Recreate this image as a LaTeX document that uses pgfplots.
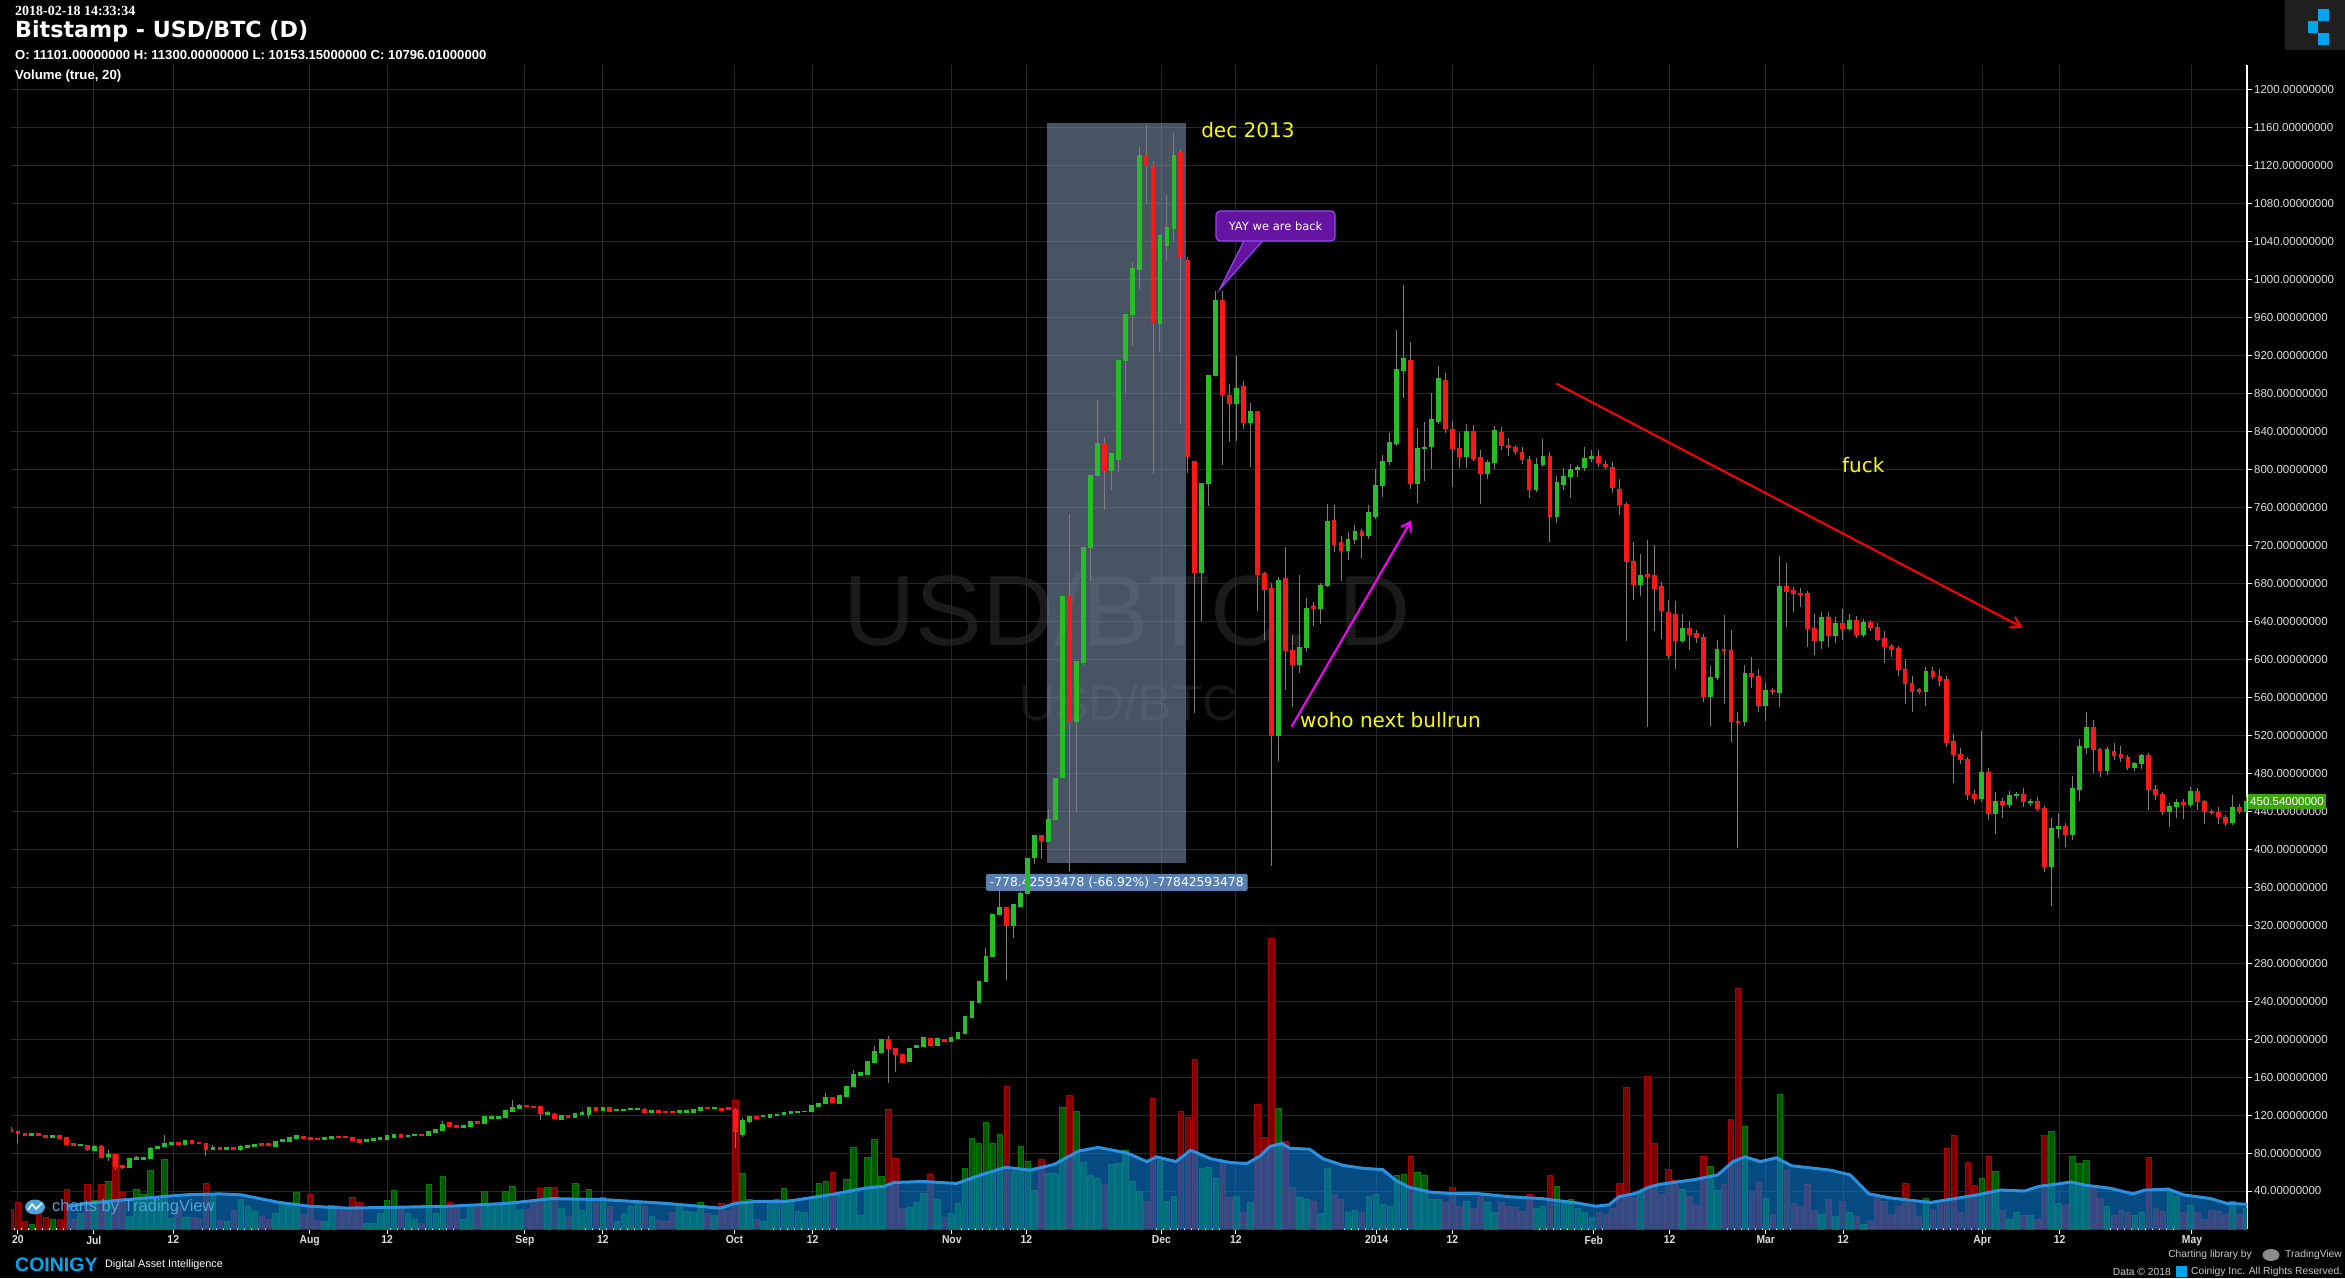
\documentclass[border=0pt]{standalone}
\usepackage{fontspec}
\setmainfont{Liberation Sans}
\newfontfamily\dejavu{DejaVu Sans}
\newfontfamily\serifb{Liberation Serif}
\newfontfamily\narrow[FakeStretch=0.9]{Liberation Sans}
\usepackage{pgfplots}
\usepackage{pgfplotstable}
\pgfplotsset{compat=1.18}
\usetikzlibrary{arrows.meta}

\definecolor{gridc}{RGB}{40,40,40}
\definecolor{upc}{RGB}{38,190,38}
\definecolor{dnc}{RGB}{250,25,25}
\definecolor{wickc}{RGB}{125,125,125}
\definecolor{vup}{RGB}{0,90,0}
\definecolor{vupe}{RGB}{0,125,0}
\definecolor{vdn}{RGB}{125,0,0}
\definecolor{vdne}{RGB}{170,0,0}
\definecolor{maf}{RGB}{8,119,206}
\definecolor{mal}{RGB}{40,145,225}
\definecolor{tickc}{RGB}{222,222,222}
\definecolor{boxc}{RGB}{120,140,165}
\definecolor{lblc}{RGB}{88,128,178}
\definecolor{yel}{RGB}{250,250,0}
\definecolor{purf}{RGB}{100,20,160}
\definecolor{pure}{RGB}{150,70,240}
\definecolor{mag}{RGB}{255,0,255}
\definecolor{pricebox}{RGB}{60,165,10}
\definecolor{wm}{RGB}{26,26,26}
\definecolor{wm2}{RGB}{22,22,22}
\definecolor{coin}{RGB}{0,165,235}
\definecolor{tvblue}{RGB}{75,165,215}
\definecolor{foot}{RGB}{200,200,200}

% i = bar index (0 = 20 Jun 2013), o h l c = price, v = volume bar height, d = 1 up / 0 down
\pgfplotstableread{
i o h l c v d
-1 104.5 107.4 101.8 102.4 21 0
0 102.8 103.5 90.5 101 28 0
1 101 101.6 98 98.6 8 0
2 98.6 101 98 100.3 5 1
3 100.7 101.5 97.5 98.2 27 0
4 98.6 99.2 96 96.5 12 0
5 96.5 98.8 96 98.2 10 1
6 97.9 98.5 95 95.4 10 0
7 95.8 96.3 88.5 89.1 42 0
8 89.5 90 87.5 88 10 0
9 88.4 89.3 88 88.7 16 1
10 88.4 89 82 84.2 47 0
11 82.4 88 81.7 87.3 30 1
12 87.3 88 75 75.8 47 0
13 76.5 83 72 78.9 50 1
14 78.9 79.5 62.4 65.9 79 0
15 66.6 67.5 63 64.9 39 0
16 64.9 75 64 74 13 1
17 73.7 77 72.5 75.1 42 1
18 73.7 76 73 75.4 37 1
19 74.4 86 74 85.2 62 1
20 84.5 87.5 84 86.6 31 1
21 87 99.3 86.5 89.8 73 1
22 89.1 92 88.5 91.2 11 1
23 90.8 91.5 88.5 89.1 24 0
24 89.1 93.8 88.8 93 12 1
25 93 94 90 90.5 12 0
26 91.2 91.8 89.2 89.8 11 0
27 90.5 91 76.5 83.8 48 0
28 83.5 88 83 86 36 1
29 85.9 86.5 83.8 84.2 9 0
30 84.2 86.5 83.8 85.9 8 1
31 85.9 86.5 83 83.5 20 0
32 84.2 88 81.7 87 31 1
33 86 88.3 85.5 87.7 24 1
34 87 89.5 86.6 89 19 1
35 90.2 90.8 88 88.4 13 0
36 89.8 90.3 87.3 87.7 10 0
37 87 93 86.5 92.3 16 1
38 91.9 95 91.5 94.4 27 1
39 92.6 96.8 92.2 96.1 27 1
40 95.4 99.5 95 98.6 39 1
41 97.5 98 95 95.4 15 0
42 96.5 97 94 94.4 36 0
43 95.4 96 94 94.4 9 0
44 94.7 97 94.3 96.5 8 1
45 95.8 98 95.3 97.5 25 1
46 97.5 98 96 96.5 24 0
47 97.5 98 95.7 96.1 19 0
48 96.8 97.3 92.6 93 33 0
49 94 94.5 90.8 91.2 28 0
50 91.9 94.5 91.5 94 6 1
51 93.3 95.6 92.9 95.1 6 1
52 94.4 96.6 94 96.1 17 1
53 94.7 99.2 94.3 98.6 30 1
54 96.8 100.5 96.4 99.6 41 1
55 99.6 100.2 96.4 96.8 22 0
56 97.5 99.4 97 98.9 16 1
57 98.2 100.1 97.8 99.6 10 1
58 99.3 99.8 98.5 98.9 6 0
59 98.6 103.7 98.2 103.1 47 1
60 101.7 105.8 101.3 105.2 16 1
61 103.8 114 103.4 110.2 55 1
62 111.6 112.3 108 108.4 28 0
63 109.1 109.6 106.2 106.6 24 0
64 107 109.6 106.6 109.1 10 1
65 108 113.6 107.6 113 23 1
66 113.3 114 110.5 110.9 26 0
67 111.6 118.5 111.2 117.9 40 1
68 116.8 118.5 116.4 117.9 24 1
69 116.8 119.2 116.4 118.6 27 1
70 117.5 125.5 117 124.9 40 1
71 123.8 135.4 123.4 127.7 45 1
72 127.4 131.5 127 130.5 20 1
73 129.8 130.5 128.4 128.8 21 0
74 129.1 129.8 127.3 127.7 28 0
75 128.8 129.5 115.1 121.4 43 0
76 120.7 123.8 120.3 123.1 44 1
77 121 121.7 116 116.5 44 0
78 115.4 120.3 115 119.6 22 1
79 119.6 120.3 116.8 117.2 13 0
80 117.9 122.5 117.5 121.4 48 1
81 121 123.8 120.6 123.1 20 1
82 121 128 116.8 127.4 42 1
83 127.7 128.3 124.6 125 32 0
84 125.3 128.3 124.9 127.7 33 1
85 127.4 128 123.5 124 24 0
86 124.5 126.2 124 125.6 8 1
87 125.2 126.9 124.8 126.3 16 1
88 125.6 127.6 125.2 127 24 1
89 125.6 127.6 125.2 127 27 1
90 126.3 127 122.4 122.8 24 0
91 123.1 125.5 122.7 124.9 13 1
92 124.6 125.2 122.7 123.1 9 0
93 124.2 124.8 122.7 123.1 8 0
94 123.8 124.4 122.4 122.8 18 0
95 123.1 125.1 122.7 124.5 25 1
96 123.1 125.5 122.7 124.9 19 1
97 123.1 126.9 122.7 126.3 18 1
98 124.5 128.3 124.1 127.7 28 1
99 127.7 128.3 126.6 127 16 0
100 127 129 126.6 128.1 14 1
101 127.1 127.7 124.5 124.9 27 0
102 127.4 128 125.6 126 20 0
103 126.3 127 85 102.8 136 0
104 99.1 117 97 114.3 59 1
105 113.5 119 112 118.1 31 1
106 118.9 119.5 116 116.6 10 0
107 118.7 119.8 118 119.1 8 1
108 117.3 121 116.8 120.4 27 1
109 119.6 121 119 120.4 31 1
110 120.4 123.2 120 122.6 43 1
111 121.9 124 121.5 123.4 31 1
112 123 124 122.5 123.4 19 1
113 123.8 124.7 123.3 124.1 18 1
114 124.1 130 123.6 129.5 31 1
115 128.7 133 128.2 132.5 48 1
116 131.8 143 131.3 138.6 50 1
117 138.6 139.3 132.5 133.3 60 0
118 132.5 140.7 132 140.1 35 1
119 140.1 150.6 139.6 150 52 1
120 150 167 149.5 162.2 86 1
121 162.2 165 161.6 164.4 14 1
122 163 176.5 162.5 175.9 75 1
123 175.9 193 175.4 186.5 94 1
124 186.5 200.2 186 199.5 55 1
125 199.5 203 154 190.3 126 0
126 190.3 191 165 183.5 74 0
127 184.2 184.8 175 175.9 22 0
128 176.6 191 176 190.3 23 1
129 191.1 194 190.5 193.4 28 1
130 192.6 202.4 192 201.7 38 1
131 200.2 200.8 192.8 193.4 58 0
132 193.4 200.8 192.8 200.2 31 1
133 199.5 200.1 197.4 198 12 0
134 198 202.3 197.4 201.7 16 1
135 201 208 200.4 207 27 1
136 205.5 224.5 205 223.8 64 1
137 223 240.5 222.4 239.8 96 1
138 239 261 238.4 260.3 90 1
139 260.3 296 259.7 286.9 112 1
140 286.9 331.7 286.3 331 90 1
141 331 359 330.4 338.6 100 1
142 338.6 339.2 262.6 319.6 150 0
143 319.6 342.4 307 341.7 61 1
144 340.1 354.5 339.5 353.8 87 1
145 353.8 391 353.2 390.4 71 1
146 391.1 415.4 384 414.7 41 1
147 414.7 415.4 390 409.4 73 0
148 408.6 442 408 431.4 59 1
149 431.4 475.5 430.8 474.8 59 1
150 475.5 667 475 666.4 128 1
151 666.4 753 376.7 534.1 141 0
152 534.1 598 439 597.2 124 1
153 597.2 718.8 594 718.1 70 1
154 718.1 794 682 793.4 57 1
155 793.4 873 792.8 826.9 53 1
156 826.9 834 757 798.7 47 0
157 798.7 817.7 778 817 68 1
158 810.1 915.8 797 915.1 69 1
159 915.1 963.7 880 963 83 1
160 963 1019 930 1011.7 50 1
161 1010.9 1140 990 1131.1 40 1
162 1131.1 1163 1080 1119.7 29 0
163 1119.7 1125 795 953.9 138 0
164 953.9 1047.3 924 1046.6 72 1
165 1036 1089 1020 1054.3 29 1
166 1054.3 1154 1040 1131.1 34 1
167 1133.4 1138 848 1024.6 124 0
168 1019.7 1024 796 814 118 0
169 808 809 543 691.9 179 0
170 691.9 786 640 785 64 1
171 785 899.5 762 898.8 65 1
172 898.8 988 898 977.7 53 1
173 977.7 987.5 805 878.5 72 0
174 877.8 890 829 869.3 33 0
175 869.3 919 830 885.7 34 1
176 887.7 893 843 849.6 18 0
177 849.6 870 803 861.4 28 1
178 860.7 862 651 689.9 131 0
179 689.9 692 620 674.1 97 0
180 674.1 680 382.4 519.7 306 0
181 519.7 687 493 683.3 127 1
182 684.6 718 568 609 92 0
183 609 626 550 594.6 44 0
184 594.6 689 586 612.4 33 1
185 612.4 665 608 653.8 31 1
186 656 660 635 653.8 29 0
187 653.8 680 637 678 16 1
188 678 764 676 745 64 1
189 746.4 763 713 720.8 37 0
190 723.4 730 683 714.2 31 0
191 714.2 734 705 726 18 1
192 726 741 722 734.4 20 1
193 734.4 737 707 730.6 18 0
194 730.6 763 727 754.3 34 1
195 750.3 800 748 783.2 36 1
196 783.2 815 771 808 26 1
197 808 838 805 827.9 24 1
198 827.9 947 825 904.7 56 1
199 904.7 994 875 917.2 58 1
200 914.6 934 779 785.2 77 0
201 785.2 844 765 822 60 1
202 822 850 788 823.5 57 1
203 824 880 800 852.2 31 1
204 850.9 909 848 895.5 31 1
205 893.6 902 838 843 28 0
206 842.3 851 782 822 44 0
207 822 838 802 814 24 0
208 814 848 801 839.7 29 1
209 839.7 847 809 812 22 0
210 812.1 821 764 795.7 38 0
211 795.7 810 790 807.5 28 1
212 807.5 846 800 841 18 1
213 839 845 820 825.2 28 0
214 825.2 833 814 823.2 24 0
215 823.2 826 815 818.7 23 0
216 818 824 806 810.5 19 0
217 810 814 770 779.2 36 0
218 779.2 812 776 804.9 22 1
219 804.9 832 803 814 24 1
220 814 818 724 750.3 57 0
221 750.3 793 744 786.5 45 1
222 784.5 801 778 793 27 1
223 793 806 770 799.6 31 1
224 799.6 805 792 802 22 1
225 802 824 798 811.5 18 1
226 811.5 820 808 814 12 1
227 814 820 803 807.5 18 0
228 805.5 809 800 803 15 0
229 801.6 808 775 781.2 22 0
230 779.2 790 752 763.5 48 0
231 763.5 766 619 703 149 0
232 703 724 662 679.4 33 0
233 679.4 711 667 688 40 1
234 689 726 529 687.5 161 0
235 688 720 630 674.3 90 0
236 676.2 681 621 651.2 36 0
237 648.8 662 600 603.7 63 0
238 647.3 661 590 620.4 51 0
239 620.4 648 617 632.1 42 1
240 632.1 640 610 626.7 34 0
241 627.2 631 617 622.8 25 0
242 622.8 627 555 560.6 77 0
243 560.6 593 530 581.2 66 1
244 581.2 620 578 610.6 41 1
245 610.1 647 553 609.1 47 0
246 609.6 631 513 534.1 115 0
247 534.1 545 400.8 533.6 253 0
248 534.1 594 530 585.1 108 1
249 585.1 602 570 582.1 39 0
250 582.1 590 545 551.3 49 0
251 551.3 576 535 567.4 32 1
252 567.4 570 562 566.4 15 0
253 565.5 708.6 550 676.7 142 1
254 676.7 701 634 671.8 62 0
255 672.8 676 650 669.4 27 0
256 669.4 675 655 668.4 24 0
257 669.4 672 613 632.1 47 0
258 632.1 648 605 619.9 20 0
259 619.9 650 611 644.4 15 1
260 644.4 650 613 625.7 31 0
261 625.7 645 617 638 13 1
262 638 653 620 632.1 29 0
263 632.1 648 630 640.9 18 1
264 640.9 646 622 626.7 13 0
265 626.7 643 624 639 5 1
266 639 641 630 633.1 8 0
267 633.6 638 619 621.3 34 0
268 622.3 630 596 613.5 29 0
269 613.5 616 602 610.6 15 0
270 611.5 614 582 589 24 0
271 589 600 553 574.3 48 0
272 574.3 582 545 566.4 27 0
273 568.4 570 563 566.4 13 0
274 566.4 592 551 587 32 1
275 587 592 579 582.1 20 0
276 582.1 590 572 578.2 27 0
277 579.2 582 508 513 85 0
278 513 521 470 499.8 99 0
279 499.8 507 490 494.9 18 0
280 494.9 497 452 457.7 70 0
281 457.7 462 448 453.8 46 0
282 453.8 525 450 481.2 53 1
283 481.2 486 431 438.1 76 0
284 438.1 460 416 449.9 61 1
285 449.9 454 433 446.9 20 0
286 446.9 461 443 456.7 10 1
287 456.7 460 453 457.7 18 1
288 457.7 465 444 449.9 14 0
289 448.9 453 446 449.9 14 1
290 449.9 455 440 443 10 0
291 443 446 376 381.7 99 0
292 381.7 433 340 421.4 103 1
293 421.4 438 412 424.3 27 1
294 424.3 428 402 415.5 25 0
295 415.5 477 410 463.5 76 1
296 463.5 516 451 508.6 69 1
297 507.6 545 500 527.7 72 1
298 527.7 536 480 504.7 45 0
299 504.7 507 476 483.2 32 0
300 483.2 508 478 504.7 24 1
301 502.7 512 494 499.3 14 0
302 499.3 509 492 496.9 20 0
303 496.9 499 483 486.1 18 0
304 486.1 492 482 490 14 1
305 490 500 484 498.8 18 1
306 498.8 501 441 462.6 75 0
307 462.6 468 452 457.7 22 0
308 457.7 460 436 440 19 0
309 440 449 423 444.9 42 1
310 444.9 453 433 448.9 34 1
311 448.9 453 432 446.9 18 0
312 446.9 466 444 460.6 25 1
313 460.6 464 441 449.9 18 0
314 449.9 452 427 440 10 0
315 440 442 437 439 20 0
316 438.5 444 427 434.1 19 0
317 433.2 436 424 428.3 15 0
318 428.3 457 426 443.9 29 1
319 443.9 448 437 440 15 0
320 440 455 438 450.5 22 1
}\data

\begin{document}
\begin{tikzpicture}[x=1pt,y=1pt]
\fill[black] (0,0) rectangle (2345,1278);
% watermark
\node[text=wm, font=\fontsize{100}{100}\selectfont, inner sep=0] at (1127,662) {USD/BTC, D};
\node[text=wm2, font=\fontsize{50}{50}\selectfont, inner sep=0] at (1129,575) {USD/BTC};

\begin{axis}[
  at={(11pt,49pt)}, anchor=south west, scale only axis,
  width=2236pt, height=1164pt,
  xmin=-1, xmax=320.1, ymin=0, ymax=1226,
  axis x line*=bottom, axis y line*=right,
  axis line style={white, line width=1.2pt},
  xtick={0,10.9,22.3,41.9,53.0,72.8,84.0,102.9,114.1,134.1,144.8,164.2,174.9,195.1,206.0,226.3,237.2,251.0,262.1,282.1,293.2,312.2},
  xticklabels={20,Jul,12,Aug,12,Sep,12,Oct,12,Nov,12,Dec,12,2014,12,Feb,12,Mar,12,Apr,12,May},
  ytick={40,80,...,1200},
  yticklabel={\pgfmathparse{int(round(\tick))}\pgfmathresult.00000000},
  grid=major, major grid style={gridc, line width=1pt},
  tick align=outside, major tick length=5pt,
  tick style={white, line width=1pt},
  xticklabel style={font=\narrow\bfseries\fontsize{11.5}{12}\selectfont, text=tickc, inner sep=1.5pt},
  yticklabel style={font=\fontsize{11.5}{12}\selectfont, text=tickc, inner sep=2pt},
]
% volume bars
\addplot[ybar, bar shift=0pt, bar width=5.6pt, fill=vup, draw=vupe, line width=0.7pt,
  restrict y to domain=0:2000]
  table[x=i, y expr={\thisrow{d}==1 ? \thisrow{v} : -1}] {\data};
\addplot[ybar, bar shift=0pt, bar width=5.6pt, fill=vdn, draw=vdne, line width=0.7pt,
  restrict y to domain=0:2000]
  table[x=i, y expr={\thisrow{d}==0 ? \thisrow{v} : -1}] {\data};

% volume moving average (20)
\addplot[draw=none, fill=maf, fill opacity=0.63] coordinates {
(7,24) (10,27) (14,30) (19,33) (24,36) (29,37) (32,36) (37.5,28) (41.8,24) (47.3,22)
(55,23) (62,24) (70.3,27) (76.6,32) (84,31) (93,27) (100.9,22) (103,27) (106,29) (110.4,29)
(117.4,37) (121.6,43) (124.4,45) (125.8,49) (130,50) (134.8,48) (138.3,57) (141.8,65) (145.3,62) (148.8,68)
(152.3,82) (155.1,86) (159.3,80) (162.1,71) (163.5,76) (166.3,71) (168.4,83) (171.3,74) (174.1,70) (176.5,69)
(178.4,77) (179.8,87) (181.5,90) (182.7,85) (185.5,84) (187.4,74) (190.3,67) (193.1,64) (196,62.5) (197.9,51)
(199.8,44) (202.7,39) (205.5,37.5) (209.4,37.5) (214.1,34) (218.9,32) (223.7,27.6) (226.6,24) (228.5,25.6) (229.9,34)
(232.3,37.5) (234.2,44) (235.7,47) (240.7,52) (244.1,57) (246.3,71) (248,76) (250.2,71) (252.5,75) (254.7,66.6)
(260.3,62) (263.1,57) (265.8,37) (268.6,33) (271.4,30.6) (274.7,28) (278.1,32) (281.4,36) (284.7,41) (288.1,40)
(290.3,45) (292.5,47) (294.8,49.5) (297,46) (300.4,43) (303.7,37) (305.4,41) (308.8,42) (311,36) (314.9,32)
(317.2,27) (320.2,26)} \closedcycle;
\addplot[mal, line width=3pt] coordinates {
(7,24) (10,27) (14,30) (19,33) (24,36) (29,37) (32,36) (37.5,28) (41.8,24) (47.3,22)
(55,23) (62,24) (70.3,27) (76.6,32) (84,31) (93,27) (100.9,22) (103,27) (106,29) (110.4,29)
(117.4,37) (121.6,43) (124.4,45) (125.8,49) (130,50) (134.8,48) (138.3,57) (141.8,65) (145.3,62) (148.8,68)
(152.3,82) (155.1,86) (159.3,80) (162.1,71) (163.5,76) (166.3,71) (168.4,83) (171.3,74) (174.1,70) (176.5,69)
(178.4,77) (179.8,87) (181.5,90) (182.7,85) (185.5,84) (187.4,74) (190.3,67) (193.1,64) (196,62.5) (197.9,51)
(199.8,44) (202.7,39) (205.5,37.5) (209.4,37.5) (214.1,34) (218.9,32) (223.7,27.6) (226.6,24) (228.5,25.6) (229.9,34)
(232.3,37.5) (234.2,44) (235.7,47) (240.7,52) (244.1,57) (246.3,71) (248,76) (250.2,71) (252.5,75) (254.7,66.6)
(260.3,62) (263.1,57) (265.8,37) (268.6,33) (271.4,30.6) (274.7,28) (278.1,32) (281.4,36) (284.7,41) (288.1,40)
(290.3,45) (292.5,47) (294.8,49.5) (297,46) (300.4,43) (303.7,37) (305.4,41) (308.8,42) (311,36) (314.9,32)
(317.2,27) (320.2,26)};

% measured range box and its label
\fill[boxc, fill opacity=0.6] (axis cs:147.8,386) rectangle (axis cs:167.7,1165.4);
\node[fill=lblc, text=white, font=\dejavu\fontsize{12.3}{13}\selectfont, rounded corners=2pt, inner xsep=4pt, inner ysep=3pt]
  at (axis cs:157.8,365) {-778.42593478 (-66.92\%) -77842593478};

% wicks
\addplot[draw=none, mark=none,
  error bars/.cd, y dir=both, y explicit, error mark=none,
  error bar style={draw=wickc, line width=1pt}]
  table[x=i, y=h, y error plus expr=0, y error minus expr={\thisrow{h}-\thisrow{l}}] {\data};
% bodies
\addplot[draw=none, mark=none, restrict y to domain=0:2000,
  error bars/.cd, y dir=both, y explicit, error mark=none,
  error bar style={draw=upc, line width=4.8pt}]
  table[x=i, y expr={\thisrow{c}>=\thisrow{o} ? \thisrow{c}+0.6 : -10},
        y error plus expr=0, y error minus expr={abs(\thisrow{c}-\thisrow{o})+1.2}] {\data};
\addplot[draw=none, mark=none, restrict y to domain=0:2000,
  error bars/.cd, y dir=both, y explicit, error mark=none,
  error bar style={draw=dnc, line width=4.8pt}]
  table[x=i, y expr={\thisrow{c}<\thisrow{o} ? \thisrow{o}+0.6 : -10},
        y error plus expr=0, y error minus expr={abs(\thisrow{c}-\thisrow{o})+1.2}] {\data};

% annotations
\node[anchor=west, inner sep=0, text=yel, font=\dejavu\fontsize{20}{20}\selectfont] at (axis cs:169.9,1158) {dec 2013};
\draw[pure, fill=purf, line width=1.2pt] (axis cs:176.2,1043) -- (axis cs:172.6,990) -- (axis cs:179,1043);
\node[fill=purf, draw=pure, line width=1.2pt, rounded corners=4pt, text=white, minimum width=119pt, minimum height=30pt,
  font=\dejavu\fontsize{11.5}{12}\selectfont] at (axis cs:180.6,1056.5) {YAY we are back};
\draw[mag, line width=2pt, -{Straight Barb[length=9pt,width=11pt]}] (axis cs:182.9,529.2) -- (axis cs:200.1,746.4);
\node[anchor=west, inner sep=0, text=yel, font=\dejavu\fontsize{20}{20}\selectfont] at (axis cs:184.1,536) {woho next bullrun};
\draw[red, line width=2pt, -{Straight Barb[length=10pt,width=12pt]}] (axis cs:220.9,890.5) -- (axis cs:287.9,633.4);
\node[inner sep=0, text=yel, font=\dejavu\fontsize{20}{20}\selectfont] at (axis cs:265,805) {fuck};
\end{axis}

% last price tag
\node[fill=pricebox, text=white, font=\fontsize{11.5}{12}\selectfont, inner xsep=2pt, inner ysep=0pt,
  minimum height=15pt, anchor=west] at (2248,476.3) {450.54000000};

% header
\node[anchor=west, inner sep=0, text=white, font=\serifb\bfseries\fontsize{14}{15}\selectfont] at (15,1267.5) {2018-02-18 14:33:34};
\node[anchor=west, inner sep=0, text=white, font=\dejavu\bfseries\fontsize{22.2}{23}\selectfont] at (15,1247) {Bitstamp - USD/BTC (D)};
\node[anchor=west, inner sep=0, text=white, font=\bfseries\fontsize{13.1}{14}\selectfont] at (15,1223) {O: 11101.00000000 H: 11300.00000000 L: 10153.15000000 C: 10796.01000000};
\node[anchor=west, inner sep=0, text=white, font=\bfseries\fontsize{13.2}{14}\selectfont] at (15,1202) {Volume (true, 20)};

% top right logo
\fill[black!88!white] (2285,1228) rectangle (2345,1278);
\fill[coin] (2317.7,1257) rectangle (2329,1268.7);
\fill[coin] (2307.7,1245) rectangle (2318.3,1256.7);
\fill[coin] (2317.7,1233) rectangle (2329,1245);

% watermark "charts by TradingView"
\fill[tvblue] (35,71) ellipse (10 and 7.5);
\draw[white, line width=1.6pt] (28,68) -- (32,74) -- (36,69) -- (42,75);
\node[anchor=west, inner sep=0, text=tvblue, font=\fontsize{16.5}{17}\selectfont] at (52,71) {charts by TradingView};

% footers
\node[anchor=west, inner sep=0, text=coin, font=\bfseries\fontsize{19.5}{20}\selectfont] at (15,13) {COINIGY};
\node[anchor=west, inner sep=0, text=white, font=\fontsize{10.8}{11}\selectfont] at (105,13) {Digital Asset Intelligence};
\node[anchor=east, inner sep=0, text=foot, font=\fontsize{10.3}{11}\selectfont] at (2252,23) {Charting library by};
\fill[foot!70!black] (2271,23) ellipse (8.5 and 6);
\node[anchor=west, inner sep=0, text=foot, font=\fontsize{10.3}{11}\selectfont] at (2285,23) {TradingView};
\node[anchor=east, inner sep=0, text=foot, font=\fontsize{10.3}{11}\selectfont] at (2171,6.5) {Data © 2018};
\fill[coin] (2176,1) rectangle (2187,12);
\node[anchor=west, inner sep=0, text=foot, font=\fontsize{10.3}{11}\selectfont] at (2191,6.5) {Coinigy Inc. All Rights Reserved.};
\end{tikzpicture}
\end{document}
